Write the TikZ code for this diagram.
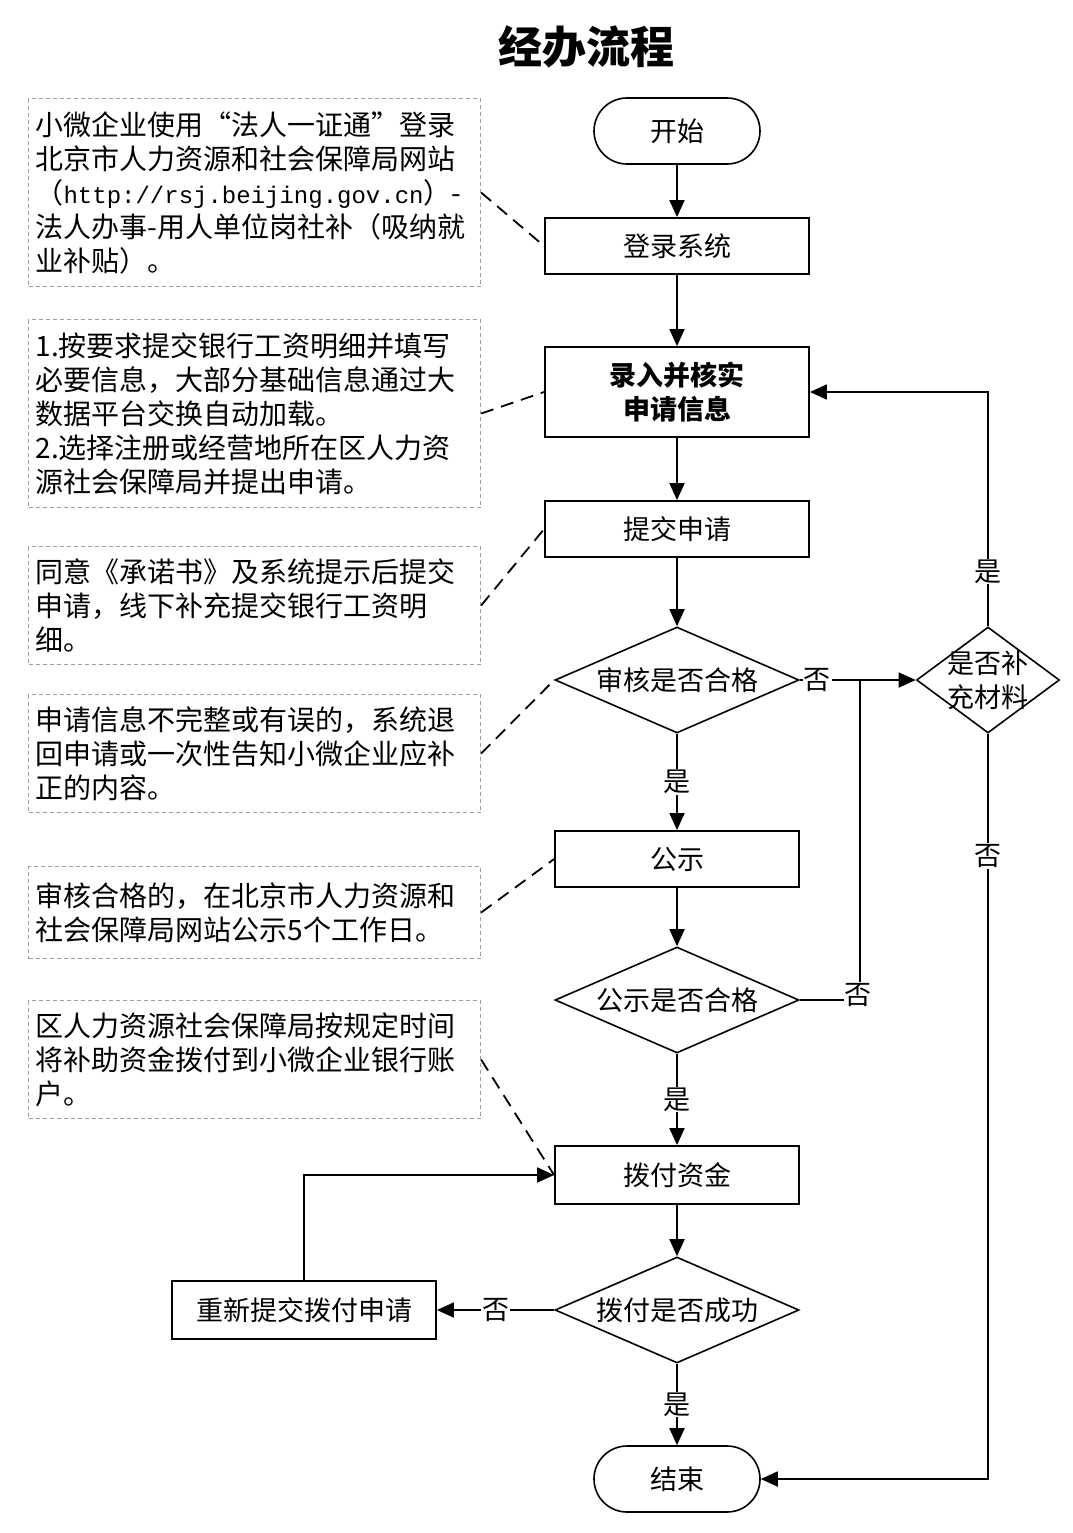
\documentclass[tikz,border=0pt]{standalone}
\usepackage{fontspec}
\setmainfont{Noto Sans CJK SC}
\newfontfamily\monof{Liberation Mono}
\usetikzlibrary{arrows.meta,shapes.geometric}
\tikzset{
  base/.style={font=\fontsize{27}{34}\selectfont},
  box/.style={base,draw,line width=1.8pt,rectangle,inner sep=2pt},
  term/.style={base,draw,line width=1.6pt,rectangle,rounded corners=33pt,minimum width=166pt,minimum height=66pt},
  dia/.style={draw,line width=1.6pt,diamond,inner sep=0pt,minimum width=244pt,minimum height=106pt},
  note/.style={font=\fontsize{28}{34}\selectfont,draw=gray!75,line width=1.1pt,dash pattern=on 4pt off 3pt,rectangle,
     minimum width=452pt,anchor=north west,text width=438pt,inner xsep=7pt,align=left},
  arr/.style={line width=1.8pt,-{Triangle[length=17pt,width=15pt]}},
  ln/.style={line width=1.8pt},
  lab/.style={base,fill=white,inner sep=1pt},
  dl/.style={line width=1.8pt,dash pattern=on 13pt off 8pt}
}
\begin{document}
\begin{tikzpicture}[x=1pt,y=-1pt]
\useasboundingbox (0,0) rectangle (1072,1533);
\node[font=\fontsize{44}{50}\selectfont\bfseries] (title) at (586,47) {经办流程};

% flow nodes
\node[term] (start) at (677,131) {开始};
\node[box,minimum width=264pt,minimum height=56pt] (login) at (677,246) {登录系统};
\node[box,minimum width=264pt,minimum height=90pt,align=center,font=\fontsize{27}{34}\selectfont\bfseries] (input) at (677,392) {录入并核实\\申请信息};
\node[box,minimum width=264pt,minimum height=56pt] (submit) at (677,529) {提交申请};
\node[dia,label={[base]center:审核是否合格}] (check) at (677,680) {};
\node[box,minimum width=244pt,minimum height=56pt] (pub) at (677,859) {公示};
\node[dia,label={[base]center:公示是否合格}] (pub2) at (677,1000) {};
\node[box,minimum width=244pt,minimum height=58pt] (fund) at (677,1175) {拨付资金};
\node[dia,label={[base]center:拨付是否成功}] (fundok) at (677,1310) {};
\node[term] (end) at (677,1479) {结束};
\node[dia,minimum width=143pt,label={[base,align=center]center:是否补\\充材料}] (supp) at (988,680) {};
\node[box,minimum width=264pt,minimum height=58pt] (resub) at (304,1310) {重新提交拨付申请};

% notes
\node[note,minimum height=188pt] (b1) at (28,98) {小微企业使用“法人一证通”登录\\北京市人力资源和社会保障局网站\\（{\monof\fontsize{24}{34}\selectfont http://rsj.beijing.gov.cn}）-\\法人办事-用人单位岗社补（吸纳就\\业补贴）。};
\node[note,minimum height=188pt] (b2) at (28,319) {1.按要求提交银行工资明细并填写\\必要信息，大部分基础信息通过大\\数据平台交换自动加载。\\2.选择注册或经营地所在区人力资\\源社会保障局并提出申请。};
\node[note,minimum height=118pt] (b3) at (28,546) {同意《承诺书》及系统提示后提交\\申请，线下补充提交银行工资明\\细。};
\node[note,minimum height=118pt] (b4) at (28,694) {申请信息不完整或有误的，系统退\\回申请或一次性告知小微企业应补\\正的内容。};
\node[note,minimum height=92pt] (b5) at (28,866) {审核合格的，在北京市人力资源和\\社会保障局网站公示5个工作日。};
\node[note,minimum height=118pt] (b6) at (28,1000) {区人力资源社会保障局按规定时间\\将补助资金拨付到小微企业银行账\\户。};

% dashed links
\draw[dl] (b1.east) -- (login.west);
\draw[dl] (b2.east) -- (input.west);
\draw[dl] (b3.east) -- (submit.west);
\draw[dl] (b4.east) -- (check.west);
\draw[dl] (b5.east) -- (pub.west);
\draw[dl] (b6.east) -- (fund.west);

% connectors
\draw[arr] (start) -- (login);
\draw[arr] (login) -- (input);
\draw[arr] (input) -- (submit);
\draw[arr] (submit) -- (check);
\draw[arr] (check.east) -- node[lab,pos=0.15]{否} (supp.west);
\coordinate (j1) at (860,680);
\coordinate (j2) at (860,1000);
\draw[ln] (pub2.east) -- (j2) -- (j1);
\node[lab] at (858,995) {否};
\draw[arr] (check.south) -- node[lab]{是} (pub);
\draw[arr] (pub) -- (pub2);
\draw[arr] (pub2.south) -- node[lab]{是} (fund);
\draw[arr] (fund) -- (fundok);
\draw[arr] (fundok.south) -- node[lab]{是} (end);
\draw[arr] (fundok.west) -- node[lab]{否} (resub.east);
\draw[arr] (resub.north) |- (fund.west);
\draw[arr] (supp.north) |- node[lab,pos=0.117]{是} (input.east);
\draw[arr] (supp.south) |- node[lab,pos=0.082]{否} (end.east);
\end{tikzpicture}
\end{document}
